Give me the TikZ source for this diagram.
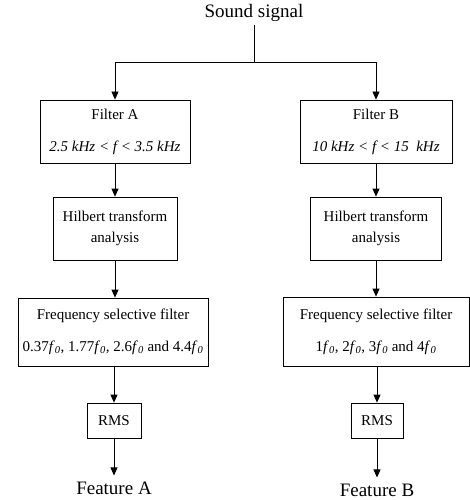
\documentclass[tikz,border=0pt]{standalone}
\usepackage{fontspec}
\setmainfont{Liberation Serif}
\usetikzlibrary{arrows.meta}
\newcommand\fzero{\textit{f}\textsubscript{\textit{0}}}
\begin{document}
\begin{tikzpicture}[x=1pt,y=-1pt,
  boxstyle/.style={draw,line width=0.8pt,inner sep=0pt,align=center,
    font=\fontsize{15}{18}\selectfont},
  labelstyle/.style={inner sep=3pt,font=\fontsize{19}{22}\selectfont},
  arr/.style={line width=0.8pt,-{Triangle[length=8pt,width=7pt]}},
  ln/.style={line width=0.8pt}]
\useasboundingbox (0,0) rectangle (470,500);
\node[labelstyle] (ss) at (254,13) {Sound signal};
\coordinate (split) at (254,62);
% left column x=115, right column x=376
\node[boxstyle,minimum width=150pt,minimum height=63pt] (fa) at (115,131.5)
  {Filter A\\[14pt]\textit{2.5 kHz < f < 3.5 kHz}};
\node[boxstyle,minimum width=152pt,minimum height=63pt] (fb) at (376,131.5)
  {Filter B\\[14pt]\textit{10 kHz < f < 15\ \ kHz}};
\node[boxstyle,minimum width=124pt,minimum height=63pt] (ha) at (115,228.5)
  {Hilbert transform\\[3pt]analysis};
\node[boxstyle,minimum width=131pt,minimum height=63pt] (hb) at (376,228.5)
  {Hilbert transform\\[3pt]analysis};
\node[boxstyle,minimum width=190pt,minimum height=68pt] (qa) at (113,332)
  {Frequency selective filter\\[14pt]0.37\fzero, 1.77\fzero, 2.6\fzero{} and 4.4\fzero};
\node[boxstyle,minimum width=186pt,minimum height=69pt] (qb) at (376,331.5)
  {Frequency selective filter\\[14pt]1\fzero, 2\fzero, 3\fzero{} and 4\fzero};
\node[boxstyle,minimum width=54pt,minimum height=35pt] (ra) at (114,420.5) {RMS};
\node[boxstyle,minimum width=52pt,minimum height=35pt] (rb) at (377,420.5) {RMS};
\node[labelstyle,inner sep=6pt] (ta) at (114,488) {Feature A};
\node[labelstyle,inner sep=6pt] (tb) at (377,490) {Feature B};
\draw[ln] (ss.south) -- (split);
\draw[arr] (split) -| (fa.north);
\draw[arr] (split) -| (fb.north);
\draw[arr] (fa) -- (ha);
\draw[arr] (fb) -- (hb);
\draw[arr] (ha.south) -- (ha.south |- qa.north);
\draw[arr] (hb) -- (qb);
\draw[arr] (qa.south -| ra) -- (ra.north);
\draw[arr] (qb.south -| rb) -- (rb.north);
\draw[arr] (ra) -- (ta);
\draw[arr] (rb) -- (tb);
\end{tikzpicture}
\end{document}
